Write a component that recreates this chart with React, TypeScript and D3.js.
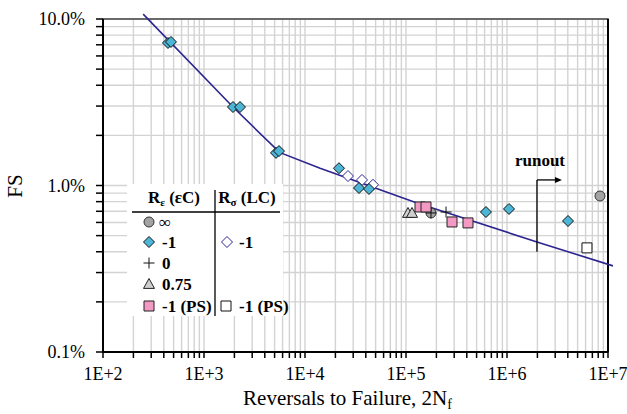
import { useEffect, useRef } from 'react';
import * as d3 from 'd3';

// Fatigue curve (reversals, FS %)
const curveN = [250, 1936, 5600, 14100, 128500, 1.98e6, 1.12e7];
const curveFS = [10.7, 2.96, 1.58, 1.27, 0.785, 0.458, 0.329];

// R_eps = -1 (filled cyan diamonds)
const diamondN = [440, 471, 1936, 2272, 5164, 5527, 21700, 34250, 43000, 619000, 1.047e6, 4.02e6];
const diamondFS = [7.18, 7.28, 2.96, 2.96, 1.57, 1.61, 1.27, 0.966, 0.953, 0.693, 0.723, 0.612];

// R_sigma = -1 (open diamonds)
const openDiamondN = [26650, 36680, 47130];
const openDiamondFS = [1.14, 1.08, 1.01];

// R_eps = infinity (grey circles)
const circleN = [176800, 8.33e6];
const circleFS = [0.684, 0.865];

// R_eps = 0 (plus)
const plusN = [176800, 249000];
const plusFS = [0.684, 0.693];

// R_eps = 0.75 (triangles)
const triN = [104700, 114700];
const triFS = [0.684, 0.684];

// R_eps = -1 (PS) pink squares
const pinkN = [137600, 157800, 285400, 411000];
const pinkFS = [0.743, 0.743, 0.604, 0.596];

// R_sigma = -1 (PS) open squares
const openSqN = [6.19e6];
const openSqFS = [0.422];

// runout marker
const runoutN = 1.98e6;
const runoutArrowN = 3.5e6;
const runoutFS = [1.08, 0.4];

const xTickLabels = ['1E+2', '1E+3', '1E+4', '1E+5', '1E+6', '1E+7'];
const yTickLabels = ['0.1%', '1.0%', '10.0%'];

const width = 627;
const height = 414;
const font = "'Liberation Serif', 'Times New Roman', serif";

export default function App() {
  const svgRef = useRef<SVGSVGElement>(null);

  useEffect(() => {
    if (!svgRef.current) return;
    const svg = d3.select(svgRef.current);
    svg.selectAll('*').remove();

    const margin = { top: 19, right: 19, bottom: 62, left: 103 };
    const w = width - margin.left - margin.right;
    const h = height - margin.top - margin.bottom;
    const g = svg.append('g').attr('transform', `translate(${margin.left},${margin.top})`);

    const x = d3.scaleLog().domain([100, 1e7]).range([0, w]);
    const y = d3.scaleLog().domain([0.1, 10]).range([h, 0]);

    // log ticks 1..9 per decade
    const xTicks: number[] = [];
    for (let e = 2; e < 7; e++) for (let m = 1; m < 10; m++) xTicks.push(m * 10 ** e);
    xTicks.push(1e7);
    const yTicks: number[] = [];
    for (let e = -1; e < 1; e++) for (let m = 1; m < 10; m++) yTicks.push(m * 10 ** e);
    yTicks.push(10);

    // Grid
    const grid = '#d3d3d3';
    xTicks.forEach(t => {
      g.append('line').attr('x1', x(t)).attr('x2', x(t)).attr('y1', 0).attr('y2', h)
        .attr('stroke', grid).attr('stroke-width', 1.4);
    });
    yTicks.forEach(t => {
      g.append('line').attr('x1', 0).attr('x2', w).attr('y1', y(t)).attr('y2', y(t))
        .attr('stroke', grid).attr('stroke-width', 1.4);
    });

    // Frame
    g.append('rect').attr('x', 0).attr('y', 0).attr('width', w).attr('height', h)
      .attr('fill', 'none').attr('stroke', '#444').attr('stroke-width', 1.5);
    g.append('line').attr('x1', 0).attr('x2', 0).attr('y1', 0).attr('y2', h)
      .attr('stroke', '#000').attr('stroke-width', 2);
    g.append('line').attr('x1', 0).attr('x2', w).attr('y1', h).attr('y2', h)
      .attr('stroke', '#000').attr('stroke-width', 2);
    g.append('line').attr('x1', w).attr('x2', w).attr('y1', 0).attr('y2', h)
      .attr('stroke', '#000').attr('stroke-width', 2);

    // Ticks
    xTicks.forEach(t => {
      g.append('line').attr('x1', x(t)).attr('x2', x(t)).attr('y1', h).attr('y2', h + 6)
        .attr('stroke', '#000').attr('stroke-width', 1.5);
    });
    yTicks.forEach(t => {
      g.append('line').attr('x1', -7).attr('x2', 0).attr('y1', y(t)).attr('y2', y(t))
        .attr('stroke', '#000').attr('stroke-width', 1.5);
    });

    // Tick labels
    xTickLabels.forEach((lab, i) => {
      g.append('text').attr('x', x(10 ** (i + 2))).attr('y', h + 28)
        .attr('text-anchor', 'middle').attr('font-family', font).attr('font-size', 18)
        .attr('fill', '#000').text(lab);
    });
    yTickLabels.forEach((lab, i) => {
      g.append('text').attr('x', -18).attr('y', y(10 ** (i - 1)) + 6)
        .attr('text-anchor', 'end').attr('font-family', font).attr('font-size', 18)
        .attr('fill', '#000').text(lab);
    });

    // Axis titles
    const xt = svg.append('text').attr('x', margin.left + w / 2 - 8).attr('y', 405)
      .attr('text-anchor', 'middle').attr('font-family', font).attr('font-size', 21).attr('fill', '#000');
    xt.append('tspan').text('Reversals to Failure, 2N');
    xt.append('tspan').attr('font-size', 14).attr('dy', 4).text('f');

    svg.append('text').attr('x', 22).attr('y', 186)
      .attr('text-anchor', 'middle').attr('font-family', font).attr('font-size', 21).attr('fill', '#000')
      .attr('transform', 'rotate(-90, 22, 186)').text('FS');

    // Legend box (white)
    g.append('rect').attr('x', 127 - margin.left).attr('y', 184 - margin.top)
      .attr('width', 156).attr('height', 132).attr('fill', '#fff');

    // Symbols
    const cyan = '#4db6d6';
    const navy = '#2c2590';
    const diamond = (cx: number, cy: number, r: number) =>
      `M${cx},${cy - r}L${cx + r},${cy}L${cx},${cy + r}L${cx - r},${cy}Z`;
    const square = (cx: number, cy: number, r: number) =>
      `M${cx - r},${cy - r}H${cx + r}V${cy + r}H${cx - r}Z`;
    const tri = (cx: number, cy: number, r: number) =>
      `M${cx},${cy - r}L${cx + r},${cy + r * 0.8}L${cx - r},${cy + r * 0.8}Z`;
    const plus = (cx: number, cy: number, r: number) =>
      `M${cx - r},${cy}H${cx + r}M${cx},${cy - r}V${cy + r}`;

    const drawSym = (layer: any, kind: string, cx: number, cy: number) => {
      if (kind === 'diamond') layer.append('path').attr('d', diamond(cx, cy, 5.5))
        .attr('fill', cyan).attr('stroke', '#111').attr('stroke-width', 1);
      if (kind === 'openDiamond') layer.append('path').attr('d', diamond(cx, cy, 5.5))
        .attr('fill', '#fff').attr('stroke', navy).attr('stroke-width', 1);
      if (kind === 'circle') layer.append('circle').attr('cx', cx).attr('cy', cy).attr('r', 5)
        .attr('fill', '#a3a3a3').attr('stroke', '#333').attr('stroke-width', 1);
      if (kind === 'plus') layer.append('path').attr('d', plus(cx, cy, 5.5))
        .attr('fill', 'none').attr('stroke', '#111').attr('stroke-width', 1);
      if (kind === 'tri') layer.append('path').attr('d', tri(cx, cy, 5.5))
        .attr('fill', '#cfcfcf').attr('stroke', '#222').attr('stroke-width', 1);
      if (kind === 'pink') layer.append('path').attr('d', square(cx, cy, 5))
        .attr('fill', '#f39ac4').attr('stroke', '#222').attr('stroke-width', 1);
      if (kind === 'openSq') layer.append('path').attr('d', square(cx, cy, 5))
        .attr('fill', '#fff').attr('stroke', '#111').attr('stroke-width', 1);
    };

    // Fatigue curve
    const line = d3.line<number>().x((_, i) => x(curveN[i])).y(d => y(d));
    g.append('path').attr('d', line(curveFS)).attr('fill', 'none')
      .attr('stroke', navy).attr('stroke-width', 1.6);

    const series: [string, number[], number[]][] = [
      ['openDiamond', openDiamondN, openDiamondFS],
      ['diamond', diamondN, diamondFS],
      ['tri', triN, triFS],
      ['circle', circleN, circleFS],
      ['plus', plusN, plusFS],
      ['pink', pinkN, pinkFS],
      ['openSq', openSqN, openSqFS],
    ];
    series.forEach(([kind, ns, fs]) => {
      ns.forEach((n, i) => drawSym(g, kind, x(n), y(fs[i])));
    });

    // Runout
    const rx = x(runoutN);
    g.append('line').attr('x1', rx).attr('x2', rx).attr('y1', y(runoutFS[0])).attr('y2', y(runoutFS[1]))
      .attr('stroke', '#000').attr('stroke-width', 1.3);
    g.append('line').attr('x1', rx).attr('x2', x(runoutArrowN) - 5).attr('y1', y(runoutFS[0])).attr('y2', y(runoutFS[0]))
      .attr('stroke', '#000').attr('stroke-width', 1.3);
    const ax = x(runoutArrowN), ay = y(runoutFS[0]);
    g.append('path').attr('d', `M${ax},${ay}L${ax - 7},${ay - 3}L${ax - 7},${ay + 3}Z`).attr('fill', '#000');
    g.append('text').attr('x', rx + 3).attr('y', y(runoutFS[0]) - 14)
      .attr('text-anchor', 'middle').attr('font-family', font).attr('font-size', 17)
      .attr('font-weight', 'bold').attr('fill', '#000').text('runout');

    // Legend content
    const L = svg.append('g');
    const lf = (sel: any) => sel.attr('font-family', font).attr('font-size', 17).attr('font-weight', 'bold').attr('fill', '#000');
    const h1 = lf(L.append('text').attr('x', 174).attr('y', 203).attr('text-anchor', 'middle'));
    h1.append('tspan').text('R');
    h1.append('tspan').attr('font-size', 11).attr('dy', 3).text('ε');
    h1.append('tspan').attr('dy', -3).text(' (εC)');
    const h2 = lf(L.append('text').attr('x', 247).attr('y', 203).attr('text-anchor', 'middle'));
    h2.append('tspan').text('R');
    h2.append('tspan').attr('font-size', 11).attr('dy', 3).text('σ');
    h2.append('tspan').attr('dy', -3).text(' (LC)');
    L.append('line').attr('x1', 132).attr('x2', 280).attr('y1', 212).attr('y2', 212)
      .attr('stroke', '#000').attr('stroke-width', 1.3);
    L.append('line').attr('x1', 215).attr('x2', 215).attr('y1', 190).attr('y2', 316)
      .attr('stroke', '#000').attr('stroke-width', 1.3);

    const rows: [string, string, number][] = [
      ['circle', '∞', 222], ['diamond', '-1', 242], ['plus', '0', 263],
      ['tri', '0.75', 284], ['pink', '-1 (PS)', 306],
    ];
    rows.forEach(([kind, lab, yy]) => {
      drawSym(L, kind, 149, yy);
      const t = lf(L.append('text').attr('x', kind === 'circle' ? 159 : 162).attr('y', yy + 6).text(lab));
      if (kind === 'circle') t.attr('font-weight', 'normal');
    });
    drawSym(L, 'openDiamond', 227, 242);
    lf(L.append('text').attr('x', 239).attr('y', 248).text('-1'));
    drawSym(L, 'openSq', 226, 306);
    lf(L.append('text').attr('x', 239).attr('y', 312).text('-1 (PS)'));
  }, []);

  return (
    <svg ref={svgRef} width={width} height={height}
      style={{ position: 'absolute', left: 0, top: 0, background: '#fff' }} />
  );
}
